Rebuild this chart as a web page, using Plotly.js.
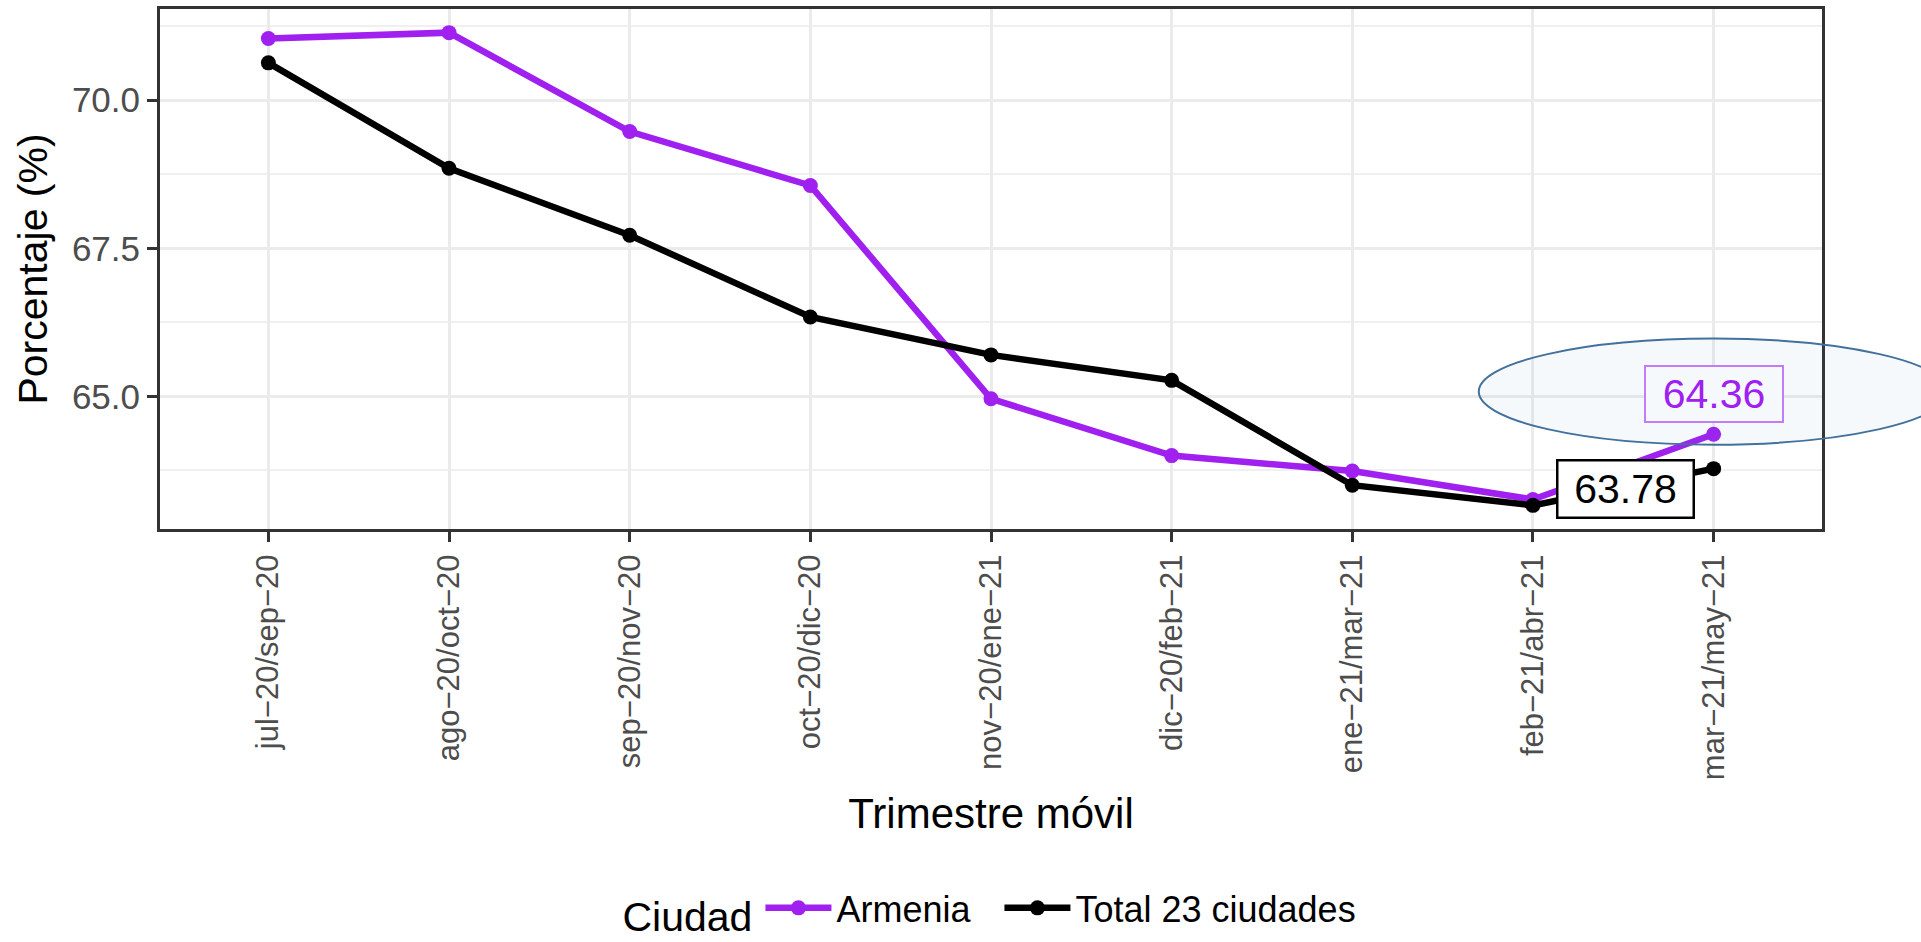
<!DOCTYPE html>
<html>
<head>
<meta charset="utf-8">
<script src="https://cdn.plot.ly/plotly-3.0.1.min.js"></script>
<style>
html,body{margin:0;padding:0;background:#fff;}
#chart{width:1921px;height:942px;}
</style>
</head>
<body>
<div id="chart"></div>
<script>
// ---- data ----
const categories = ["jul−20/sep−20","ago−20/oct−20","sep−20/nov−20","oct−20/dic−20","nov−20/ene−21","dic−20/feb−21","ene−21/mar−21","feb−21/abr−21","mar−21/may−21"];
const armenia = [71.04, 71.14, 69.47, 68.56, 64.96, 64.00, 63.74, 63.26, 64.36];
const total23 = [70.63, 68.85, 67.72, 66.34, 65.70, 65.27, 63.50, 63.16, 63.78];
const seriesNames = ["Armenia", "Total 23 ciudades"];
const yTickVals = [65.0, 67.5, 70.0];
const yTickText = ["65.0", "67.5", "70.0"];

// ---- scales (ggplot-like expansion) ----
const all = armenia.concat(total23);
const yMin = Math.min(...all), yMax = Math.max(...all);
const yPad = (yMax - yMin) * 0.05;
const yRange = [yMin - yPad, yMax + yPad];
const xRange = [-0.6, categories.length - 1 + 0.6];

const FONT = "Liberation Sans, Arial, Helvetica, sans-serif";
const PURPLE = "#A020F0";

const traces = [
  {x: categories, y: armenia, name: seriesNames[0], type: "scatter", mode: "lines+markers",
   line: {color: PURPLE, width: 6.5}, marker: {color: PURPLE, size: 15}, legendwidth: 158},
  {x: categories, y: total23, name: seriesNames[1], type: "scatter", mode: "lines+markers",
   line: {color: "#000000", width: 6.5}, marker: {color: "#000000", size: 15}}
];

// ellipse highlight around the last period (paper coords so it is not clipped)
const last = categories.length - 1;
const toPx = v => (v - xRange[0]) / (xRange[1] - xRange[0]);
const toPy = v => (v - yRange[0]) / (yRange[1] - yRange[0]);
const ell = {cx: last, rx: 1.30, cy: 65.08, ry: 0.895};

const layout = {
  width: 1921, height: 942,
  paper_bgcolor: "#ffffff", plot_bgcolor: "#ffffff",
  margin: {l: 160, r: 99, t: 9, b: 413},
  font: {family: FONT, color: "#000"},
  showlegend: true,
  legend: {
    orientation: "h", x: 0.5, xanchor: "center", xref: "paper",
    y: 0.034, yanchor: "middle", yref: "container",
    title: {text: "Ciudad", side: "left", font: {size: 41, color: "#000"}},
    font: {size: 36, color: "#000"}, itemwidth: 66, tracegroupgap: 0, valign: "middle"
  },
  xaxis: {
    type: "category", range: xRange,
    showgrid: true, gridcolor: "#ebebeb", gridwidth: 3,
    ticks: "outside", ticklen: 10, tickwidth: 3, tickcolor: "#333333",
    tickangle: -90, tickfont: {size: 31, color: "#4d4d4d"}, ticklabelstandoff: 0,
    showline: true, linecolor: "#333333", linewidth: 3, mirror: true,
    zeroline: false, automargin: false,
    title: {text: "Trimestre móvil", font: {size: 42, color: "#000"}, standoff: 20}
  },
  yaxis: {
    range: yRange, tickvals: yTickVals, ticktext: yTickText,
    showgrid: true, gridcolor: "#ebebeb", gridwidth: 3,
    minor: {dtick: 1.25, tick0: 65, showgrid: true, gridcolor: "#f0f0f0", gridwidth: 2, ticks: ""},
    ticks: "outside", ticklen: 10, tickwidth: 3, tickcolor: "#333333",
    tickfont: {size: 35, color: "#4d4d4d"},
    showline: true, linecolor: "#333333", linewidth: 3, mirror: true,
    zeroline: false, automargin: false,
    title: {text: "Porcentaje (%)", font: {size: 41, color: "#000"}, standoff: 12}
  },
  shapes: [{
    type: "circle", xref: "paper", yref: "paper", layer: "above",
    x0: toPx(ell.cx - ell.rx), x1: toPx(ell.cx + ell.rx),
    y0: toPy(ell.cy - ell.ry), y1: toPy(ell.cy + ell.ry),
    line: {color: "#41719c", width: 2}, fillcolor: "rgba(70,130,180,0.05)"
  }],
  annotations: [
    {x: categories[last], y: armenia[last], xref: "x", yref: "y", text: armenia[last].toFixed(2),
     showarrow: false, yshift: 40, font: {size: 41, color: PURPLE},
     bgcolor: "rgb(246,249,252)", bordercolor: "#c27cf5", borderwidth: 2, width: 134, height: 52},
    {x: categories[last], y: total23[last], xref: "x", yref: "y", text: total23[last].toFixed(2),
     showarrow: false, xshift: -88, yshift: -20, font: {size: 41, color: "#000"},
     bgcolor: "#ffffff", bordercolor: "#000000", borderwidth: 2.5, width: 132, height: 53}
  ]
};

Plotly.newPlot("chart", traces, layout, {displayModeBar: false, staticPlot: true});
</script>
</body>
</html>
